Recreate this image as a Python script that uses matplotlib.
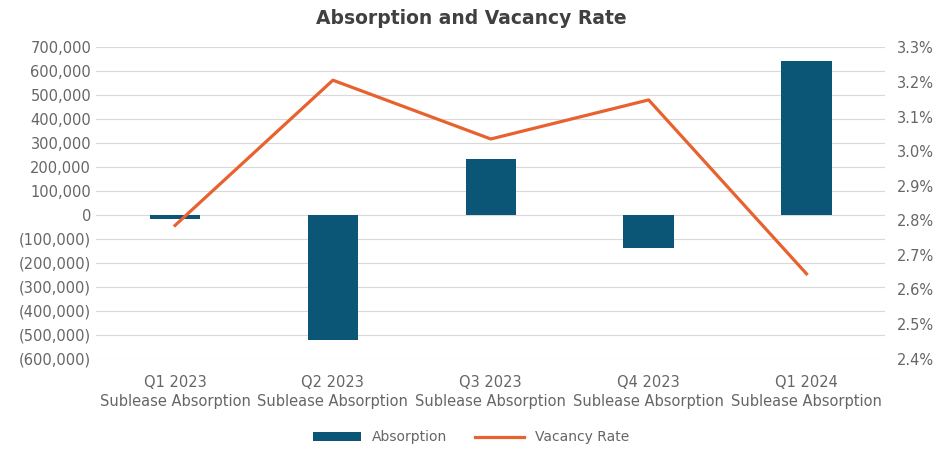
import numpy as np
import matplotlib.pyplot as plt
from matplotlib.ticker import FuncFormatter

# data
quarters = ["Q1 2023\nSublease Absorption", "Q2 2023\nSublease Absorption",
            "Q3 2023\nSublease Absorption", "Q4 2023\nSublease Absorption",
            "Q1 2024\nSublease Absorption"]
absorption = [-15000, -523000, 234000, -138000, 645000]
vacancy_rate = [2.785, 3.205, 3.035, 3.148, 2.645]

bar_color = "#0B5576"
line_color = "#E8622F"
text_color = "#666666"

plt.rcParams['font.family'] = ['Liberation Sans Narrow', 'DejaVu Sans']

fig = plt.figure(figsize=(9.42, 4.51), dpi=100)
ax = fig.add_axes([0.102, 0.205, 0.838, 0.69])
x = np.arange(len(quarters))

ax.bar(x, absorption, width=0.32, color=bar_color, label="Absorption", zorder=2)
ax.set_ylim(-600000, 700000)
ax.set_yticks(np.arange(-600000, 700001, 100000))


def fmt_left(v, pos):
    if v < 0:
        return "({:,.0f})".format(-v)
    return "{:,.0f}".format(v)


ax.yaxis.set_major_formatter(FuncFormatter(fmt_left))
ax.grid(axis="y", color="#D9D9D9", linewidth=0.8, zorder=0)
ax.set_xlim(-0.5, 4.5)
ax.set_xticks(x)
ax.set_xticklabels(quarters, fontsize=10.5, color=text_color, linespacing=1.3)
ax.tick_params(axis="both", length=0, colors=text_color, labelsize=10.5)
ax.tick_params(axis="x", pad=12)
for s in ax.spines.values():
    s.set_visible(False)

ax2 = ax.twinx()
ax2.plot(x, vacancy_rate, color=line_color, linewidth=2.3, label="Vacancy Rate", zorder=3)
ax2.set_ylim(2.4, 3.3)
ax2.set_yticks(np.arange(2.4, 3.31, 0.1))
ax2.yaxis.set_major_formatter(FuncFormatter(lambda v, p: "{:.1f}%".format(v)))
ax2.tick_params(axis="y", length=0, colors=text_color, labelsize=10.5, pad=8)
for s in ax2.spines.values():
    s.set_visible(False)

fig.suptitle("Absorption and Vacancy Rate", x=0.5, y=0.98, fontsize=13.5,
             fontweight="bold", color="#404040")

h1, l1 = ax.get_legend_handles_labels()
h2, l2 = ax2.get_legend_handles_labels()
fig.legend(h1 + h2, l1 + l2, loc="center", bbox_to_anchor=(0.5, 0.03), ncol=2,
           frameon=False, fontsize=10, labelcolor=text_color,
           handlelength=3.5, handleheight=0.7, columnspacing=2.0)

fig.savefig("out.png", dpi=100)
